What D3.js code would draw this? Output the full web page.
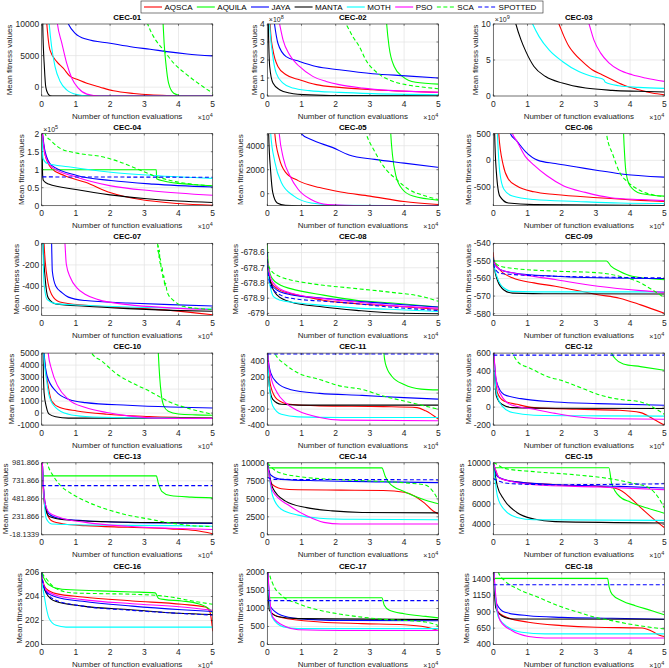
<!DOCTYPE html>
<html>
<head>
<meta charset="utf-8">
<script src="https://cdn.jsdelivr.net/npm/d3@7"></script>
<style>
  body { margin: 0; background: #fff; }
  svg { display: block; font-family: "Liberation Sans", Arial, Helvetica, sans-serif; }
</style>
</head>
<body>
<svg id="fig" width="669" height="668"></svg>
<script>
'use strict';

// ---- legend / series ----
const algorithms = ['AQSCA', 'AQUILA', 'JAYA', 'MANTA', 'MOTH', 'PSO', 'SCA', 'SPOTTED'];
const seriesColors = ['#ff0000', '#00ff00', '#0000ff', '#000000', '#00ffff', '#ff00ff', '#00ff00', '#0000ff'];
const seriesDashed = [false, false, false, false, false, false, true, true];

// ---- axes ----
const titles = ['CEC-01', 'CEC-02', 'CEC-03', 'CEC-04', 'CEC-05', 'CEC-06',
  'CEC-07', 'CEC-08', 'CEC-09', 'CEC-10', 'CEC-11', 'CEC-12',
  'CEC-13', 'CEC-14', 'CEC-15', 'CEC-16', 'CEC-17', 'CEC-18'];
const xTicks = [0, 1, 2, 3, 4, 5];
const xExponent = 4;
const yDomains = [
  [-1400, 10000], [0, 4], [0, 10],
  [0, 2], [-1000, 5000], [-850, 500],
  [-670, 0], [-679.013, -678.54], [-581, -540],
  [-1000, 5000], [-400, 500], [-200, 600],
  [-18.1339, 981.866], [0, 10000], [3000, 10000],
  [200, 206], [0, 2000], [400, 1500]
];
const yTicks = [
  [0, 5000, 10000], [0, 1, 2, 3, 4], [0, 5, 10],
  [0, 0.5, 1, 1.5, 2], [0, 2000, 4000], [-500, 0, 500],
  [-600, -400, -200, 0], [-679, -678.9, -678.8, -678.7, -678.6], [-580, -570, -560, -550, -540],
  [-1000, 0, 1000, 2000, 3000, 4000, 5000], [-400, -200, 0, 200, 400], [-200, 0, 200, 400, 600],
  [-18.1339, 231.866, 481.866, 731.866, 981.866], [0, 2500, 5000, 7500, 10000], [4000, 6000, 8000, 10000],
  [200, 202, 204, 206], [0, 500, 1000, 1500, 2000], [400, 650, 900, 1150, 1400]
];
const yExponents = [null, 8, 9, 5, null, null, null, null, null,
  null, null, null, null, null, null, null, null, null];

// ---- convergence curves: [evaluations (x1e4), mean fitness] ----
const cec01 = {
  AQSCA: [[0, 40000], [0.1, 14000], [0.15, 10000], [0.24, 5900], [0.44, 4050], [0.63, 3000], [0.83, 1700], [1.03, 1260], [1.32, 630], [1.71, 0], [2.1, -580], [2.69, -1000], [3.17, -1210], [3.66, -1310], [5, -1400]],
  AQUILA: [[0, 20000], [3.45, 20000], [3.55, 10000], [3.58, 6950], [3.63, 3800], [3.71, 630], [3.86, -950], [4.15, -1400], [5, -1400]],
  JAYA: [[0, 60000], [0.5, 15000], [0.78, 10000], [0.98, 8530], [1.32, 7580], [2.0, 6950], [2.69, 6320], [3.17, 6000], [3.66, 5630], [4.25, 5260], [5, 4950]],
  MANTA: [[0, 40000], [0.03, 10000], [0.08, 3000], [0.12, 0], [0.18, -1000], [0.25, -1350], [0.35, -1400], [5, -1400]],
  MOTH: [[0, 40000], [0.15, 15000], [0.22, 10000], [0.29, 6400], [0.39, 3260], [0.54, 900], [0.73, -420], [1.03, -1160], [1.42, -1400], [5, -1400]],
  PSO: [[0, 60000], [0.3, 20000], [0.46, 10000], [0.59, 6950], [0.73, 3800], [0.88, 1420], [1.07, -160], [1.32, -1100], [1.71, -1400], [5, -1400]],
  SCA: [[0, 60000], [2.9, 14000], [3.1, 10000], [3.27, 8000], [3.56, 5900], [3.86, 3800], [4.25, 1950], [4.64, 370], [5, -950]],
  SPOTTED: null
};
const cec02 = {
  AQSCA: [[0, 8], [0.07, 4.5], [0.1, 3.48], [0.165, 2.56], [0.31, 1.64], [0.55, 1.18], [0.94, 0.9], [1.43, 0.63], [2.1, 0.48], [3.08, 0.35], [4.05, 0.26], [5, 0.2]],
  AQUILA: [[0, 8], [3.4, 7], [3.49, 4], [3.56, 2.75], [3.71, 1.64], [3.95, 1.09], [4.34, 0.76], [5, 0.66]],
  JAYA: [[0, 8], [0.21, 4], [0.31, 2.93], [0.55, 2.19], [0.94, 1.92], [1.43, 1.64], [2.1, 1.46], [3.08, 1.24], [4.05, 1.12], [5, 1.0]],
  MANTA: [[0, 8], [0.03, 4], [0.07, 1.64], [0.165, 0.72], [0.36, 0.35], [0.65, 0.17], [1.23, 0.06], [2.1, 0.02], [5, 0.005]],
  MOTH: [[0, 8], [0.07, 4], [0.15, 2.38], [0.26, 1.27], [0.46, 0.72], [0.75, 0.44], [1.23, 0.3], [2.1, 0.2], [3.08, 0.13], [5, 0.07]],
  PSO: [[0, 8], [0.36, 4], [0.46, 3.12], [0.65, 2.29], [0.94, 1.64], [1.33, 1.09], [1.72, 0.81], [2.1, 0.63], [2.79, 0.44], [3.56, 0.31], [5, 0.2]],
  SCA: [[0, 8], [2.3, 4], [2.5, 3.3], [2.69, 2.75], [2.88, 2.0], [3.17, 1.36], [3.56, 0.9], [4.05, 0.63], [4.53, 0.5], [5, 0.4]],
  SPOTTED: null
};
const cec03 = {
  AQSCA: [[0, 30], [1.92, 10], [2.07, 8.25], [2.21, 6.9], [2.36, 5.95], [2.6, 4.8], [2.89, 3.64], [3.18, 2.95], [3.48, 2.26], [3.86, 1.43], [4.25, 0.88], [4.64, 0.42], [5, 0.18]],
  AQUILA: null,
  JAYA: null,
  MANTA: [[0, 30], [0.66, 10], [0.81, 7.8], [0.95, 6.2], [1.19, 4.1], [1.53, 2.7], [2.02, 1.8], [2.7, 1.1], [3.48, 0.78], [4.25, 0.65], [5, 0.55]],
  MOTH: [[0, 30], [1.15, 10], [1.34, 8.25], [1.63, 6.4], [2.02, 4.8], [2.5, 3.4], [2.99, 2.6], [3.18, 2.4], [3.24, 2.2], [3.28, 1.9], [3.67, 1.43], [4.25, 1.2], [5, 1.06]],
  PSO: [[0, 40], [2.8, 10], [2.94, 7.8], [3.14, 5.95], [3.38, 4.6], [3.67, 3.64], [4.06, 2.95], [4.45, 2.5], [5, 2.03]],
  SCA: null,
  SPOTTED: null
};
const cec04 = {
  AQSCA: [[0, 2.2], [0.1, 1.41], [0.29, 1.03], [0.66, 0.84], [1.28, 0.65], [2.02, 0.36], [2.89, 0.17], [4.0, 0.06], [5, 0.01]],
  AQUILA: [[0, 2.2], [0.02, 1.0], [3.35, 1.0], [3.36, 0.75], [3.6, 0.68], [4, 0.62], [4.5, 0.58], [5, 0.55]],
  JAYA: [[0, 2.2], [0.1, 1.5], [0.29, 1.12], [1.03, 0.84], [2.02, 0.7], [3.26, 0.6], [5, 0.52]],
  MANTA: [[0, 2.2], [0.03, 0.8], [0.05, 0.7], [0.2, 0.6], [1.0, 0.45], [2.0, 0.3], [3.0, 0.2], [4.0, 0.13], [5, 0.09]],
  MOTH: [[0, 2.2], [0.04, 1.31], [0.16, 1.17], [0.78, 1.08], [2.02, 0.93], [3.26, 0.84], [5, 0.76]],
  PSO: [[0, 2.2], [0.1, 1.41], [0.29, 1.08], [1.03, 0.79], [2.02, 0.55], [3.26, 0.41], [5, 0.29]],
  SCA: [[0, 2.4], [0.1, 2], [0.29, 1.79], [0.53, 1.6], [1.03, 1.46], [1.77, 1.36], [2.27, 1.22], [2.77, 1.03], [3.26, 0.84], [3.76, 0.7], [4.38, 0.6], [5, 0.55]],
  SPOTTED: [[0.02, 0.8], [5, 0.79]]
};
const cec05 = {
  AQSCA: [[0, 20000], [0.22, 5000], [0.35, 2940], [0.53, 1800], [0.9, 1090], [1.53, 510], [2.15, 140], [3.0, -200], [4.0, -650], [5, -900]],
  AQUILA: [[0, 20000], [3.5, 15000], [3.61, 5000], [3.66, 3230], [3.76, 1510], [3.95, 370], [4.26, -200], [5, -540]],
  JAYA: [[0, 30000], [0.8, 6500], [0.99, 5000], [1.28, 4510], [1.9, 3860], [2.39, 3230], [3.14, 2860], [4.0, 2550], [5, 2200]],
  MANTA: [[0, 20000], [0.04, 5000], [0.1, 1800], [0.16, 90], [0.29, -770], [0.53, -970], [0.9, -1000], [5, -1000]],
  MOTH: [[0, 20000], [0.1, 5000], [0.22, 2660], [0.41, 940], [0.78, -200], [1.28, -770], [2.15, -970], [5, -1000]],
  PSO: [[0, 30000], [0.35, 5000], [0.47, 2940], [0.66, 1500], [0.9, 370], [1.28, -490], [1.77, -910], [2.77, -1000], [5, -1000]],
  SCA: [[0, 30000], [2.7, 7000], [2.89, 5000], [3.14, 3510], [3.45, 2090], [3.76, 1230], [4.13, 370], [4.63, -200], [5, -490]],
  SPOTTED: null
};
const cec06 = {
  AQSCA: [[0, 3000], [0.16, 500], [0.29, -90], [0.44, -350], [0.69, -480], [1.19, -590], [1.81, -640], [3.06, -700], [4.31, -750], [5, -770]],
  AQUILA: [[0, 3000], [3.75, 2000], [3.81, 500], [3.84, 100], [3.88, -220], [4.0, -480], [4.31, -620], [5, -670]],
  JAYA: [[0, 3000], [0.5, 500], [0.69, 360], [0.94, 165], [1.31, 0], [1.81, -60], [2.44, -125], [3.06, -190], [3.69, -250], [5, -315]],
  MANTA: [[0, 3000], [0.04, 500], [0.09, -220], [0.19, -670], [0.44, -800], [1.19, -830], [5, -845]],
  MOTH: [[0, 3000], [0.12, 500], [0.19, -220], [0.31, -540], [0.56, -670], [1.19, -735], [2.44, -770], [3.69, -800], [5, -810]],
  PSO: [[0, 3000], [0.56, 500], [0.69, 360], [0.94, 70], [1.19, -90], [1.56, -285], [2.06, -480], [2.69, -600], [3.44, -700], [4.31, -735], [5, -755]],
  SCA: [[0, 3000], [3.2, 1200], [3.31, 500], [3.5, 100], [3.69, -220], [3.94, -410], [4.31, -570], [4.69, -650], [5, -680]],
  SPOTTED: null
};
const cec07 = {
  AQSCA: [[0, 3000], [0.07, 0], [0.16, -320], [0.29, -475], [0.53, -545], [1.28, -576], [2.52, -600], [3.76, -623], [5, -664]],
  AQUILA: null,
  JAYA: [[0, 3000], [0.29, 0], [0.31, -257], [0.41, -397], [0.6, -460], [0.78, -500], [1.28, -532], [2.52, -554], [3.76, -570], [5, -582]],
  MANTA: [[0, 3000], [0.04, 0], [0.1, -320], [0.19, -507], [0.41, -563], [1.28, -585], [2.52, -607], [3.76, -623], [5, -632]],
  MOTH: [[0, 3000], [0.04, 0], [0.07, -380], [0.16, -523], [0.41, -560], [1.28, -576], [2.52, -592], [3.76, -601], [5, -610]],
  PSO: [[0, 3000], [0.68, 0], [0.72, -194], [0.84, -320], [1.03, -413], [1.28, -476], [1.65, -523], [2.52, -570], [3.76, -600], [5, -617]],
  SCA: [[0, 5000], [3.36, 200], [3.39, 0], [3.4, -80], [3.41, -20], [3.43, -130], [3.44, -60], [3.46, -190], [3.47, -140], [3.5, -260], [3.52, -220], [3.55, -330], [3.57, -300], [3.6, -400], [3.62, -370], [3.66, -440], [3.7, -476], [3.78, -510], [3.88, -538], [4.13, -585], [4.63, -607], [5, -617]],
  SPOTTED: null
};
const cec08 = {
  AQSCA: [[0, -678.6], [0.01, -678.68], [0.1, -678.79], [0.29, -678.837], [0.68, -678.87], [1.16, -678.892], [1.64, -678.914], [2.61, -678.936], [3.57, -678.95], [5, -678.973]],
  AQUILA: [[0, -678.54], [0.03, -678.68], [0.14, -678.77], [0.39, -678.815], [0.68, -678.837], [1.64, -678.88], [2.61, -678.914], [3.57, -678.93], [5, -678.958]],
  JAYA: [[0, -678.6], [0.01, -678.68], [0.1, -678.8], [0.29, -678.848], [0.68, -678.877], [1.64, -678.9], [2.61, -678.92], [3.57, -678.936], [5, -678.958]],
  MANTA: [[0, -678.6], [0.01, -678.68], [0.1, -678.8], [0.29, -678.88], [0.68, -678.925], [1.64, -678.958], [2.61, -678.98], [3.57, -678.996], [5, -679.002]],
  MOTH: [[0, -678.6], [0.01, -678.7], [0.1, -678.837], [0.19, -678.892], [0.39, -678.914], [0.68, -678.925], [1.64, -678.947], [2.61, -678.965], [3.57, -678.973], [5, -678.987]],
  PSO: [[0, -678.6], [0.01, -678.66], [0.1, -678.77], [0.29, -678.826], [0.68, -678.866], [1.64, -678.903], [2.61, -678.925], [3.57, -678.947], [5, -678.965]],
  SCA: [[0, -678.6], [0.01, -678.66], [0.1, -678.716], [0.39, -678.76], [0.68, -678.78], [1.16, -678.8], [1.64, -678.815], [2.61, -678.837], [3.57, -678.86], [4.54, -678.89], [5, -678.92]],
  SPOTTED: [[0, -678.6], [0.01, -678.7], [0.1, -678.82], [0.39, -678.88], [0.68, -678.9], [1.64, -678.92], [2.61, -678.936], [3.57, -678.958], [5, -678.98]]
};
const cec09 = {
  AQSCA: [[0, -545], [0.02, -550], [0.19, -555], [0.56, -559.6], [1.19, -562.5], [1.81, -564.4], [3.06, -569.2], [3.69, -571.2], [4.31, -575], [5, -579.8]],
  AQUILA: [[0, -549], [0.02, -550], [3.31, -550], [3.44, -552.9], [3.69, -555.8], [4.06, -558.7], [5, -560.6]],
  JAYA: [[0, -548], [0.02, -551], [0.19, -554.8], [0.56, -556.7], [1.81, -558.7], [3.06, -559.6], [5, -560]],
  MANTA: [[0, -548], [0.02, -552], [0.12, -561], [0.31, -566.5], [0.56, -568.3], [1.81, -568.7], [5, -568.8]],
  MOTH: [[0, -548], [0.02, -552], [0.12, -559.6], [0.31, -565.4], [0.56, -567.3], [1.81, -567.6], [5, -567.6]],
  PSO: [[0, -548], [0.02, -551], [0.19, -554.8], [0.56, -556.7], [1.81, -560.6], [3.06, -564.4], [4.31, -566.9], [5, -567.9]],
  SCA: [[0, -548], [0.02, -550], [0.19, -552.9], [0.56, -554.2], [1.81, -555.8], [3.06, -556.7], [3.69, -558.7], [4.31, -562.5], [4.56, -565.4], [5, -570.8]],
  SPOTTED: [[0, -548], [0.02, -553], [0.19, -557], [0.56, -557.7], [1.81, -558.7], [3.06, -559.2], [5, -559.6]]
};
const cec10 = {
  AQSCA: [[0, 20000], [0.07, 5000], [0.19, 2250], [0.29, 1010], [0.53, 460], [1.03, 180], [1.9, -90], [3.14, -280], [4.38, -390], [5, -450]],
  AQUILA: [[0, 20000], [3.3, 15000], [3.41, 5000], [3.45, 3000], [3.5, 1500], [3.57, 600], [3.7, 150], [4.0, -80], [4.5, -150], [5, -180]],
  JAYA: [[0, 20000], [0.07, 5000], [0.16, 3070], [0.41, 1840], [0.78, 1150], [1.28, 870], [2.52, 650], [3.76, 510], [5, 430]],
  MANTA: [[0, 20000], [0.04, 5000], [0.07, 1700], [0.14, 460], [0.22, -90], [0.41, -310], [0.78, -420], [5, -420]],
  MOTH: [[0, 20000], [0.06, 5000], [0.14, 2800], [0.22, 1420], [0.41, 460], [0.78, -90], [1.28, -280], [2.52, -390], [5, -450]],
  PSO: [[0, 20000], [0.19, 5000], [0.29, 3620], [0.47, 2250], [0.78, 1150], [1.28, 460], [1.9, 50], [2.52, -230], [3.76, -450], [5, -450]],
  SCA: [[0, 30000], [1.3, 6000], [1.46, 5000], [1.77, 4310], [2.15, 3350], [2.64, 2520], [3.14, 1840], [3.76, 900], [4.38, 320], [5, -100]],
  SPOTTED: null
};
const cec11 = {
  AQSCA: [[0, 3000], [0.01, 500], [0.1, 87], [0.29, -78], [0.66, -140], [1.53, -160], [3.39, -169], [4.38, -181], [4.63, -222], [5, -326]],
  AQUILA: [[0, 3000], [3.3, 2000], [3.41, 500], [3.45, 376], [3.64, 211], [4.0, 108], [4.5, 50], [5, 40]],
  JAYA: [[0, 3000], [0.01, 500], [0.1, 252], [0.29, 128], [0.66, 46], [1.53, -4], [2.77, -28], [4.0, -57], [5, -75]],
  MANTA: [[0, 3000], [0.01, 500], [0.06, 87], [0.16, -78], [0.41, -140], [0.9, -150], [5, -150]],
  MOTH: [[0, 3000], [0.01, 500], [0.06, 87], [0.16, -160], [0.41, -264], [0.9, -297], [2.15, -305], [5, -305]],
  PSO: [[0, 3000], [0.01, 500], [0.1, 211], [0.29, 5], [0.53, -119], [0.9, -222], [1.53, -305], [2.15, -338], [5, -346]],
  SCA: [[0, 3000], [0.15, 900], [0.22, 500], [0.53, 356], [0.9, 252], [1.53, 170], [2.15, 87], [2.77, 46], [3.39, -37], [4.0, -99], [5, -202]],
  SPOTTED: [[0, 489], [5, 489]]
};
const cec12 = {
  AQSCA: [[0, 3000], [0.02, 600], [0.12, 160], [0.31, 68], [0.69, 31], [1.19, -6], [2.44, -24], [3.69, -35], [4.31, -61], [4.69, -134], [5, -200]],
  AQUILA: [[0, 3000], [3.4, 1000], [3.46, 600], [3.56, 540], [3.8, 480], [4.3, 450], [5, 410]],
  JAYA: [[0, 3000], [0.02, 600], [0.09, 288], [0.31, 141], [0.81, 94], [1.81, 57], [3.06, 39], [5, 20]],
  MANTA: [[0, 3000], [0.02, 600], [0.09, 123], [0.25, 31], [0.56, -6], [1.81, -13], [5, -15]],
  MOTH: [[0, 3000], [0.02, 600], [0.09, 160], [0.25, 13], [0.56, -61], [1.19, -90], [3.06, -97], [5, -100]],
  PSO: [[0, 3000], [0.02, 600], [0.12, 233], [0.31, 86], [0.56, 20], [1.19, -24], [1.81, -70], [2.5, -110], [3.5, -130], [5, -135]],
  SCA: [[0, 3000], [0.45, 700], [0.56, 600], [0.75, 490], [1.06, 435], [1.56, 343], [2.06, 288], [2.56, 215], [3.06, 141], [3.69, 86], [4.31, 57], [5, -80]],
  SPOTTED: [[0, 578], [5, 578]]
};
const cec13 = {
  AQSCA: [[0, 3000], [0.02, 981], [0.08, 400], [0.29, 177], [0.66, 132], [1.28, 109], [2.52, 86], [3.76, 64], [4.5, 41], [5, -4]],
  AQUILA: [[0, 3000], [0.02, 800], [3.35, 800], [3.41, 700], [3.51, 586], [3.76, 527], [4.38, 505], [5, 495]],
  JAYA: [[0, 3000], [0.02, 981], [0.1, 427], [0.22, 268], [0.53, 209], [1.28, 177], [2.52, 154], [3.76, 145], [5, 141]],
  MANTA: [[0, 3000], [0.02, 981], [0.1, 382], [0.22, 236], [0.66, 191], [1.9, 163], [3.76, 150], [5, 145]],
  MOTH: [[0, 3000], [0.02, 981], [0.14, 200], [0.29, 132], [1.28, 118], [3.76, 109], [5, 100]],
  PSO: [[0, 3000], [0.02, 981], [0.1, 420], [0.22, 290], [0.53, 223], [1.28, 154], [2.52, 100], [3.76, 72], [5, 55]],
  SCA: [[0, 3000], [0.1, 1100], [0.16, 981], [0.35, 790], [0.53, 677], [0.91, 541], [1.28, 450], [1.9, 336], [2.52, 255], [3.14, 200], [3.76, 146], [4.38, 109], [5, 96]],
  SPOTTED: [[0, 665], [5, 665]]
};
const cec14 = {
  AQSCA: [[0, 10000], [0.1, 7200], [0.41, 6400], [0.9, 6250], [2.15, 6200], [3.39, 6150], [4.0, 5900], [4.3, 5400], [4.6, 4400], [4.85, 3300], [5, 2900]],
  AQUILA: [[0, 10000], [0.03, 9300], [3.35, 9300], [3.45, 8100], [3.57, 7180], [4.0, 6000], [4.63, 4800], [5, 4300]],
  JAYA: [[0, 10000], [0.1, 8300], [0.41, 7700], [1.53, 7500], [3.39, 7350], [5, 7250]],
  MANTA: [[0, 10000], [0.16, 6500], [0.53, 4680], [1.15, 3770], [1.9, 3320], [2.77, 3100], [5, 3050]],
  MOTH: [[0, 10000], [0.16, 5360], [0.41, 3550], [0.9, 2730], [1.53, 2300], [2.5, 2150], [5, 2100]],
  PSO: [[0, 10000], [0.16, 6040], [0.66, 4000], [1.15, 2640], [1.65, 1730], [2.15, 1500], [5, 1500]],
  SCA: [[0, 10000], [0.29, 8770], [0.9, 8100], [2.15, 7640], [3.39, 7400], [4.13, 7180], [4.63, 6900], [4.85, 6000], [5, 4800]],
  SPOTTED: [[0, 8000], [0.2, 7700], [5, 7650]]
};
const cec15 = {
  AQSCA: [[0, 10000], [0.19, 8500], [0.56, 8190], [1.81, 7870], [3.31, 7650], [3.69, 7390], [4.31, 5640], [4.69, 4530], [5, 3700]],
  AQUILA: [[0, 10000], [0.06, 9520], [3.38, 9520], [3.46, 8000], [3.7, 6700], [4.0, 6200], [4.5, 5600], [5, 5100]],
  JAYA: [[0, 10000], [0.12, 8660], [0.56, 8190], [1.81, 7870], [3.69, 7710], [5, 7550]],
  MANTA: [[0, 10000], [0.12, 7710], [0.31, 6440], [0.69, 5170], [1.19, 4530], [1.81, 4280], [5, 4150]],
  MOTH: [[0, 10000], [0.12, 6760], [0.31, 5490], [0.69, 4690], [1.19, 4470], [5, 4400]],
  PSO: [[0, 10000], [0.19, 8500], [1.19, 7870], [3.06, 7650], [5, 7390]],
  SCA: [[0, 10000], [0.06, 9930], [0.31, 9460], [1.19, 9140], [2.44, 8820], [3.31, 8500], [4.06, 8030], [4.56, 7550], [4.85, 6500], [5, 5600]],
  SPOTTED: [[0, 8500], [0.06, 8350], [0.56, 7960], [1.81, 7870], [5, 7960]]
};
const cec16 = {
  AQSCA: [[0, 206], [0.01, 205.6], [0.13, 204.66], [0.42, 204.24], [1.2, 203.96], [2.65, 203.63], [4.1, 203.35], [4.78, 203.13], [4.92, 202.7], [5, 201.1]],
  AQUILA: [[0, 206.5], [0.01, 206], [0.13, 205.2], [0.32, 204.8], [0.71, 204.58], [1.68, 204.47], [2.65, 204.38], [3.32, 204.3], [3.42, 203.83], [3.61, 203.74], [4.1, 203.63], [4.58, 203.4], [4.92, 202.9], [5, 202.6]],
  JAYA: [[0, 206], [0.01, 205.6], [0.13, 204.38], [0.42, 203.96], [1.2, 203.6], [2.65, 203.2], [4.1, 202.9], [5, 202.75]],
  MANTA: [[0, 206], [0.01, 205.5], [0.13, 204.3], [0.4, 203.6], [1.2, 203.2], [2.6, 202.9], [4, 202.6], [5, 202.5]],
  MOTH: [[0, 206], [0.01, 205.4], [0.08, 203.96], [0.22, 202.15], [0.42, 201.6], [0.71, 201.45], [5, 201.45]],
  PSO: [[0, 206], [0.01, 205.6], [0.13, 204.52], [0.42, 204.1], [1.2, 203.74], [2.65, 203.4], [4.1, 203.13], [5, 202.85]],
  SCA: [[0, 206.5], [0.01, 206], [0.13, 205.5], [0.42, 204.66], [0.9, 204.3], [1.68, 204.24], [2.65, 204.19], [3.61, 204.02], [4.58, 203.54], [5, 203.35]],
  SPOTTED: [[0, 206], [0.01, 205.5], [0.13, 204.4], [0.4, 203.7], [1.2, 203.2], [2.6, 202.85], [4, 202.6], [5, 202.45]]
};
const cec17 = {
  AQSCA: [[0, 3000], [0.02, 2000], [0.1, 900], [0.41, 750], [1.53, 625], [2.77, 580], [4.0, 550], [4.63, 485], [5, 390]],
  AQUILA: [[0, 3000], [0.02, 1300], [3.35, 1300], [3.42, 1090], [3.57, 950], [4.0, 855], [4.63, 780], [5, 740]],
  JAYA: [[0, 3000], [0.02, 2000], [0.1, 1040], [0.41, 810], [0.9, 720], [2.15, 670], [5, 660]],
  MANTA: [[0, 3000], [0.02, 1800], [0.06, 950], [0.29, 780], [0.9, 720], [5, 690]],
  MOTH: [[0, 3000], [0.02, 1800], [0.14, 760], [0.47, 490], [0.9, 440], [5, 440]],
  PSO: [[0, 3000], [0.02, 2000], [0.16, 760], [0.53, 500], [0.9, 410], [2.15, 390], [5, 390]],
  SCA: [[0, 3000], [0.06, 2000], [0.16, 1690], [0.41, 1370], [0.9, 1135], [1.53, 950], [2.15, 840], [2.77, 760], [3.39, 700], [4.0, 670], [4.63, 625], [5, 530]],
  SPOTTED: [[0, 1220], [5, 1220]]
};
const cec18 = {
  AQSCA: [[0, 2000], [0.02, 1500], [0.1, 917], [0.34, 826], [1.03, 740], [2.0, 689], [3.0, 663], [4.35, 653], [4.64, 603], [4.88, 537], [5, 522]],
  AQUILA: [[0, 2000], [0.03, 1410], [3.34, 1410], [3.39, 1272], [3.47, 1170], [3.76, 1070], [4.15, 993], [4.64, 917], [5, 856]],
  JAYA: [[0, 2000], [0.02, 1500], [0.1, 1018], [0.34, 892], [1.03, 840], [2.0, 815], [3.47, 800], [5, 785]],
  MANTA: [[0, 2000], [0.02, 1500], [0.07, 967], [0.24, 840], [0.54, 790], [5, 785]],
  MOTH: [[0, 2000], [0.02, 1500], [0.15, 815], [0.44, 663], [0.83, 587], [1.51, 562], [5, 562]],
  PSO: [[0, 2000], [0.02, 1500], [0.2, 765], [0.54, 613], [1.03, 522], [1.51, 500], [5, 500]],
  SCA: [[0, 2000], [0.15, 1500], [0.34, 1373], [0.73, 1246], [1.32, 1120], [1.9, 993], [2.49, 892], [2.98, 815], [3.47, 765], [3.96, 714], [4.44, 674], [5, 638]],
  SPOTTED: [[0, 1312], [5, 1312]]
};
const panels = [cec01, cec02, cec03, cec04, cec05, cec06, cec07, cec08, cec09,
  cec10, cec11, cec12, cec13, cec14, cec15, cec16, cec17, cec18];

// ---- layout ----
const colLeft = [41.7, 267.3, 493.3];
const plotW = 171;
const plotH = 72;
const rowTop = 24;
const rowStep = 109.7;
const labelFont = 8;
const axisColor = '#262626';
const gridColor = '#e3e3e3';
// the long CEC-13 tick labels are set smaller so the y label still fits
const tickFonts = [8.5, 8.5, 8.5, 8.5, 8.5, 8.5, 8.5, 8.5, 8.5,
  8.5, 8.5, 8.5, 7.5, 8.5, 8.5, 8.5, 8.5, 8.5];

const svg = d3.select('#fig');
const defs = svg.append('defs');

function addExponent(sel, x, y, exp, anchor) {
  let t = sel.append('text')
      .attr('x', x).attr('y', y)
      .attr('text-anchor', anchor)
      .attr('font-size', 7)
      .attr('fill', axisColor);
  t.append('tspan').text('\u00d710');
  t.append('tspan').attr('dy', -3).attr('font-size', 5.5).text(exp);
}

panels.forEach(function(data, i) {
  let r = Math.floor(i / 3);
  let c = i % 3;
  let left = colLeft[c];
  let g = svg.append('g')
      .attr('transform', 'translate(' + left + ',' + (rowTop + r * rowStep) + ')');

  let x = d3.scaleLinear().domain([0, 5]).range([0, plotW]);
  let y = d3.scaleLinear().domain(yDomains[i]).range([plotH, 0]);

  // grid
  g.append('g').selectAll('line').data(xTicks).join('line')
      .attr('x1', d => x(d)).attr('x2', d => x(d))
      .attr('y1', 0).attr('y2', plotH)
      .attr('stroke', gridColor).attr('stroke-width', 0.7);
  g.append('g').selectAll('line').data(yTicks[i]).join('line')
      .attr('x1', 0).attr('x2', plotW)
      .attr('y1', d => y(d)).attr('y2', d => y(d))
      .attr('stroke', gridColor).attr('stroke-width', 0.7);

  // curves
  defs.append('clipPath').attr('id', 'clip' + i)
      .append('rect').attr('width', plotW).attr('height', plotH);
  let line = d3.line()
      .x(d => x(d[0]))
      .y(d => y(d[1]))
      .curve(d3.curveMonotoneX);
  let curves = g.append('g').attr('clip-path', 'url(#clip' + i + ')');
  algorithms.forEach(function(name, k) {
    let pts = data[name];
    if (!pts) return;
    curves.append('path')
        .datum(pts)
        .attr('d', line)
        .attr('fill', 'none')
        .attr('stroke', seriesColors[k])
        .attr('stroke-width', 1.1)
        .attr('stroke-dasharray', seriesDashed[k] ? '4,2.5' : null);
  });

  // box and inward ticks
  g.append('rect')
      .attr('width', plotW).attr('height', plotH)
      .attr('fill', 'none').attr('stroke', axisColor).attr('stroke-width', 0.6);
  let tl = 1.8;
  g.append('g').selectAll('path').data(xTicks).join('path')
      .attr('d', d => 'M' + x(d) + ',' + plotH + 'v' + (-tl) + 'M' + x(d) + ',0v' + tl)
      .attr('stroke', axisColor).attr('stroke-width', 0.6);
  g.append('g').selectAll('path').data(yTicks[i]).join('path')
      .attr('d', d => 'M0,' + y(d) + 'h' + tl + 'M' + plotW + ',' + y(d) + 'h' + (-tl))
      .attr('stroke', axisColor).attr('stroke-width', 0.6);

  // tick labels
  g.append('g').selectAll('text').data(xTicks).join('text')
      .attr('x', d => x(d)).attr('y', plotH + 10.5)
      .attr('text-anchor', 'middle')
      .attr('font-size', 8.5).attr('fill', axisColor)
      .text(d => d);
  let yLabels = g.append('g').selectAll('text').data(yTicks[i]).join('text')
      .attr('x', -2.5).attr('y', d => y(d))
      .attr('dy', '0.35em')
      .attr('text-anchor', 'end')
      .attr('font-size', tickFonts[i]).attr('fill', axisColor)
      .text(d => String(d));
  let maxW = d3.max(yLabels.nodes(), n => n.getComputedTextLength());

  // exponents
  addExponent(g, plotW, plotH + 23.5, xExponent, 'end');
  if (yExponents[i] !== null) {
    addExponent(g, 1.5, -2, yExponents[i], 'start');
  }

  // title and axis labels
  g.append('text')
      .attr('x', plotW / 2).attr('y', -4)
      .attr('text-anchor', 'middle')
      .attr('font-size', 7.8).attr('font-weight', 'bold').attr('fill', '#000')
      .text(titles[i]);
  g.append('text')
      .attr('x', plotW / 2).attr('y', plotH + 22.5)
      .attr('text-anchor', 'middle')
      .attr('font-size', labelFont).attr('fill', axisColor)
      .text('Number of function evaluations');
  let ylx = -Math.min(2.5 + maxW + 6, left - 5);
  g.append('text')
      .attr('transform', 'translate(' + ylx + ',' + (plotH / 2) + ') rotate(-90)')
      .attr('dy', '0.35em')
      .attr('text-anchor', 'middle')
      .attr('font-size', labelFont).attr('fill', axisColor)
      .text('Mean fitness values');
});

// ---- legend ----
let legend = svg.append('g');
legend.append('rect')
    .attr('x', 141).attr('y', 1).attr('width', 402).attr('height', 12)
    .attr('fill', '#fff').attr('stroke', axisColor).attr('stroke-width', 0.6);
let lx = 144;
algorithms.forEach(function(name, k) {
  legend.append('line')
      .attr('x1', lx).attr('x2', lx + 18)
      .attr('y1', 7).attr('y2', 7)
      .attr('stroke', seriesColors[k]).attr('stroke-width', 1.1)
      .attr('stroke-dasharray', seriesDashed[k] ? '4,2.5' : null);
  let t = legend.append('text')
      .attr('x', lx + 20.5).attr('y', 7).attr('dy', '0.35em')
      .attr('font-size', labelFont).attr('fill', '#000')
      .text(name);
  lx += 20.5 + t.node().getComputedTextLength() + 4.3;
});
</script>
</body>
</html>
